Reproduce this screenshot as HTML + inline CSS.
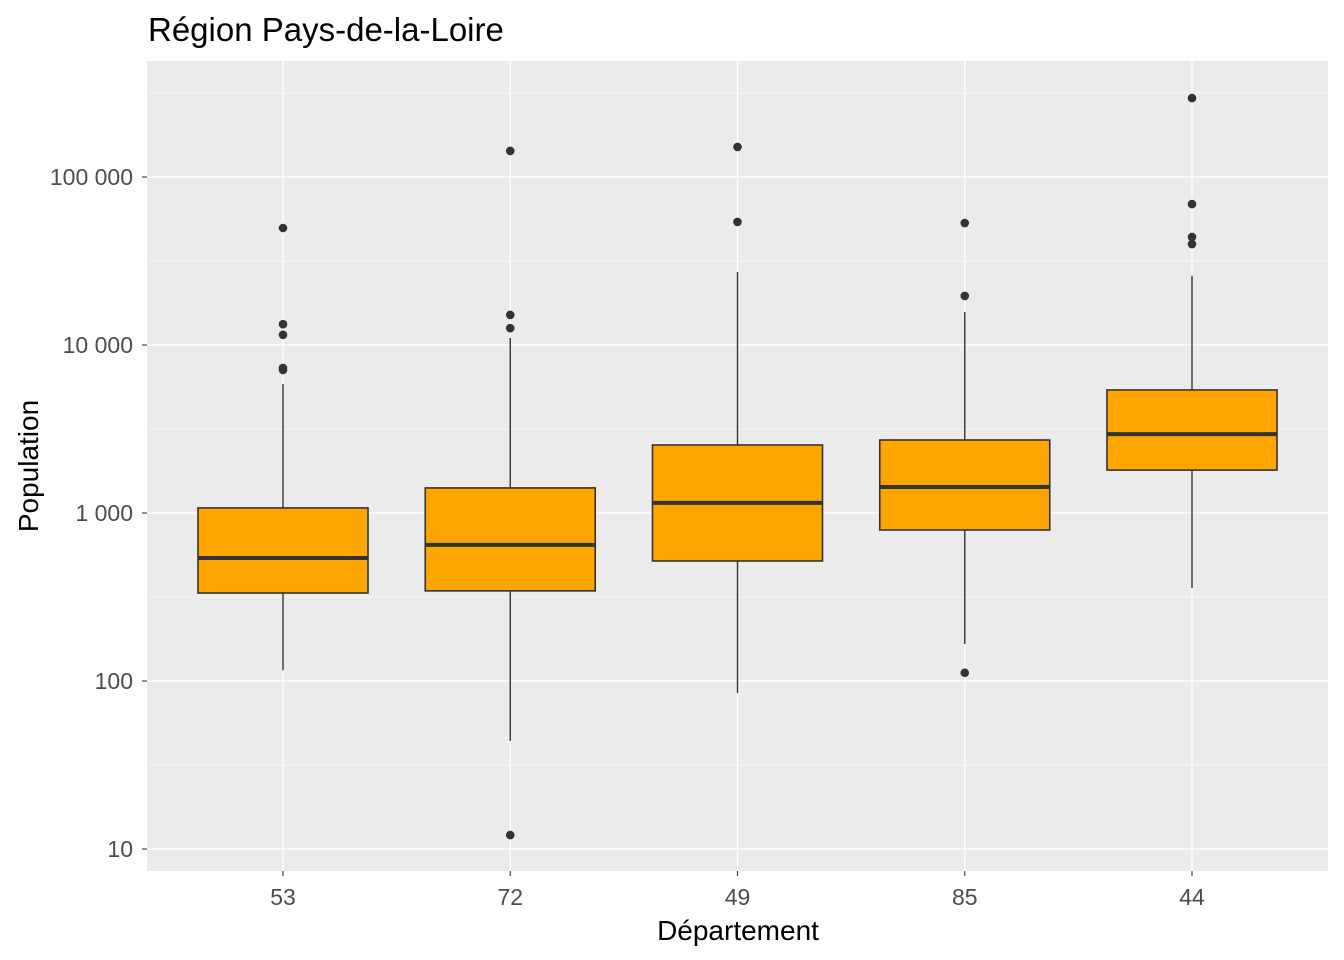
<!DOCTYPE html>
<html><head><meta charset="utf-8"><style>
html,body{margin:0;padding:0;background:#fff;}
svg{display:block;font-family:"Liberation Sans",Arial,sans-serif;}
</style></head><body>
<svg id="chart" width="1344" height="960">
<text x="148" y="41" font-size="33" fill="#000">Région Pays-de-la-Loire</text>
<rect x="147" y="61" width="1181" height="810" fill="#ebebeb"/>
<g id="grid"></g><g id="marks"></g><g id="axes"></g>
<text x="738" y="940" font-size="28" text-anchor="middle" fill="#000">Département</text>
<text transform="translate(38,466) rotate(-90)" font-size="28" text-anchor="middle" fill="#000">Population</text>
</svg>
<script>
const categories = ["53","72","49","85","44"];
const q1 = [334,344,518,792,1800];
const median = [540,646,1148,1428,2950];
const q3 = [1072,1410,2540,2720,5400];
const whiskerLow = [116,44,85,166,358];
const whiskerHigh = [5860,11000,27200,15700,25800];
const outliers = [[49700,13300,11500,7300,7100],[143000,15100,12600,12.1],[151000,54000],[53200,19600,112],[295000,69000,44000,39900]];
const yTicks = [10,100,1000,10000,100000];
const yTickLabels = ["10","100","1 000","10 000","100 000"];

const NS="http://www.w3.org/2000/svg";
function y(v){return 849-168*(Math.log10(v)-1);}
function x(i){return 283+227.25*i;}
const bw=170;
function mk(tag,attrs,parent){const e=document.createElementNS(NS,tag);for(const k in attrs)e.setAttribute(k,attrs[k]);document.getElementById(parent).appendChild(e);return e;}
for(let i=0;i<yTicks.length;i++){
  const mv=yTicks[i]*Math.sqrt(10);
  const l=mk("line",{x1:147,x2:1328,y1:y(mv),y2:y(mv),stroke:"#fff","stroke-width":0.6},"grid");
  
  
}
yTicks.forEach((t,i)=>{
  const l=mk("line",{x1:147,x2:1328,y1:y(t),y2:y(t),stroke:"#fff","stroke-width":1.3},"grid");
  
  
  const tk=mk("line",{x1:142,x2:147,y1:y(t),y2:y(t),stroke:"#333","stroke-width":1.1},"axes");
  
  
  const tx=mk("text",{x:133,y:y(t)+8,"font-size":23,"text-anchor":"end",fill:"#4d4d4d"},"axes");
  tx.textContent=yTickLabels[i];
  
  
});
categories.forEach((c,i)=>{
  const cx=x(i);
  const g=mk("line",{x1:cx,x2:cx,y1:61,y2:871,stroke:"#fff","stroke-width":1.3},"grid");
  
  
  const tk=mk("line",{x1:cx,x2:cx,y1:871,y2:876,stroke:"#333","stroke-width":1.1},"axes");
  
  
  const tx=mk("text",{x:cx,y:905,"font-size":23,"text-anchor":"middle",fill:"#4d4d4d"},"axes");
  tx.textContent=c;
  
  
  const w1=mk("line",{x1:cx,x2:cx,y1:y(q3[i]),y2:y(whiskerHigh[i]),stroke:"#333","stroke-width":1.4},"marks");
  
  
  const w2=mk("line",{x1:cx,x2:cx,y1:y(q1[i]),y2:y(whiskerLow[i]),stroke:"#333","stroke-width":1.4},"marks");
  
  
  const b=mk("rect",{x:cx-bw/2,y:y(q3[i]),width:bw,height:y(q1[i])-y(q3[i]),fill:"#ffa500",stroke:"#333","stroke-width":1.6},"marks");
  
  
  const m=mk("line",{x1:cx-bw/2,x2:cx+bw/2,y1:y(median[i]),y2:y(median[i]),stroke:"#333","stroke-width":4},"marks");
  
  
  outliers[i].forEach(o=>{
    const p=mk("circle",{cx:cx,cy:y(o),r:4.3,fill:"#333"},"marks");
    
    
  });
});
</script>
</body></html>
